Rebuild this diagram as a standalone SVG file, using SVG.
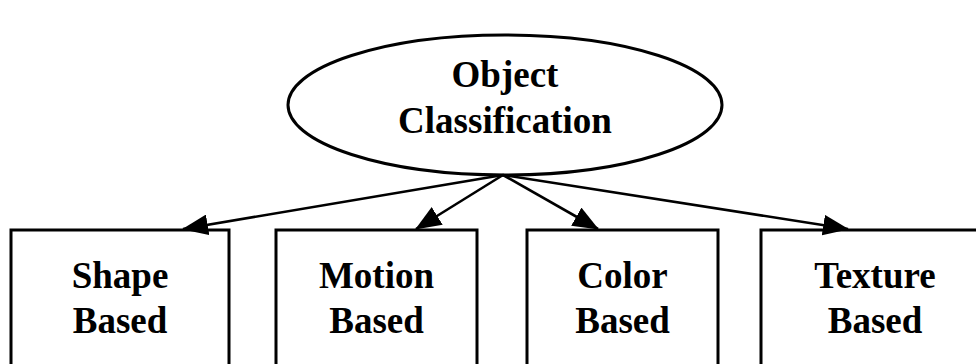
<svg xmlns="http://www.w3.org/2000/svg" width="976" height="364" viewBox="0 0 976 364">
<style>
.shape{fill:#fff;stroke:#000;stroke-width:3}
.conn{stroke:#000;stroke-width:2.6;fill:none}
text{font-family:"Liberation Serif","Times New Roman",serif;font-weight:bold;font-size:37px;fill:#000;text-anchor:middle}
</style>
<defs>
<marker id="ah" markerWidth="10" markerHeight="8" refX="9.6" refY="4" orient="auto" markerUnits="strokeWidth">
<path d="M0,0 L10,4 L0,8 Z" fill="#000"/>
</marker>
</defs>
<rect width="976" height="364" fill="#fff"/>
<g id="root">
<ellipse class="shape" cx="505" cy="105" rx="217" ry="70"/>
<text x="505" y="87">Object</text>
<text x="505" y="133">Classification</text>
</g>
<g id="shape-based">
<rect class="shape" x="11" y="230" width="218" height="150"/>
<text x="120" y="288">Shape</text>
<text x="120" y="333">Based</text>
</g>
<g id="motion-based">
<rect class="shape" x="276" y="230" width="201" height="150"/>
<text x="376.5" y="288">Motion</text>
<text x="376.5" y="333">Based</text>
</g>
<g id="color-based">
<rect class="shape" x="527" y="230" width="191" height="150"/>
<text x="622.5" y="288">Color</text>
<text x="622.5" y="333">Based</text>
</g>
<g id="texture-based">
<rect class="shape" x="761" y="230" width="228" height="150"/>
<text x="875" y="288">Texture</text>
<text x="875" y="333">Based</text>
</g>
<g id="connectors">
<line class="conn" x1="503" y1="175" x2="183" y2="229" marker-end="url(#ah)"/>
<line class="conn" x1="503" y1="175" x2="416" y2="229" marker-end="url(#ah)"/>
<line class="conn" x1="503" y1="175" x2="598" y2="229" marker-end="url(#ah)"/>
<line class="conn" x1="503" y1="175" x2="848" y2="229" marker-end="url(#ah)"/>
</g>
</svg>
